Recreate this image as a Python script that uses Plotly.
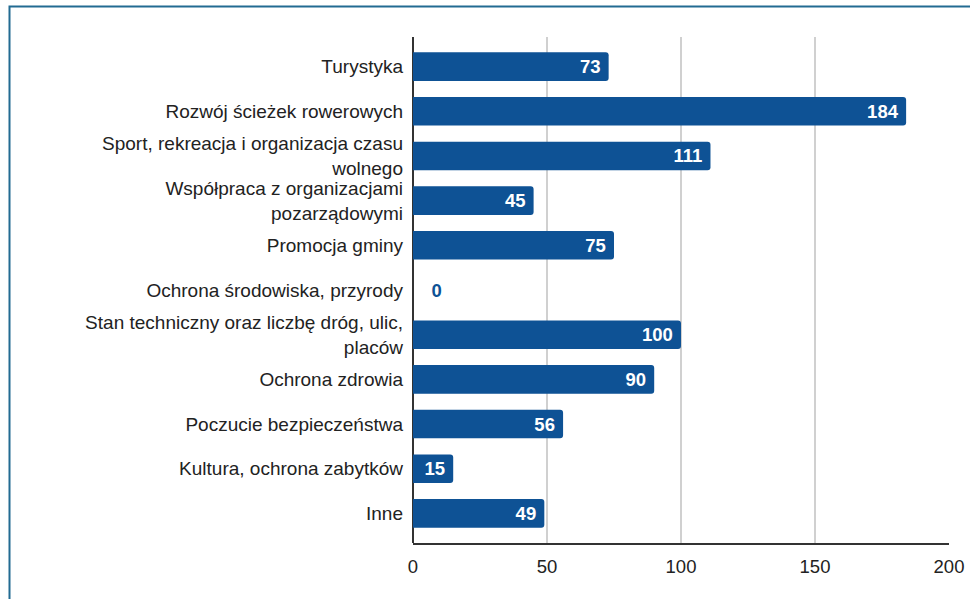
import plotly.graph_objects as go

categories = [
    "Turystyka",
    "Rozwój ścieżek rowerowych",
    "Sport, rekreacja i organizacja czasu<br>wolnego",
    "Współpraca z organizacjami<br>pozarządowymi",
    "Promocja gminy",
    "Ochrona środowiska, przyrody",
    "Stan techniczny oraz liczbę dróg, ulic,<br>placów",
    "Ochrona zdrowia",
    "Poczucie bezpieczeństwa",
    "Kultura, ochrona zabytków",
    "Inne",
]
values = [73, 184, 111, 45, 75, 0, 100, 90, 56, 15, 49]
x_ticks = [0, 50, 100, 150, 200]

BAR = "#0e5295"
FONT = "Liberation Sans, Arial, sans-serif"

positions = ["outside" if v == 0 else "inside" for v in values]
labels = [("\u00a0\u00a0\u00a0" + str(v)) if v == 0 else (str(v) + "\u00a0") for v in values]

fig = go.Figure(
    go.Bar(
        x=values,
        y=categories,
        orientation="h",
        marker=dict(color=BAR, cornerradius=3, line=dict(width=0)),
        text=labels,
        textposition=positions,
        insidetextanchor="end",
        insidetextfont=dict(color="white", size=18.5, family=FONT, weight="bold"),
        outsidetextfont=dict(color=BAR, size=18.5, family=FONT, weight="bold"),
        cliponaxis=False,
        hoverinfo="skip",
    )
)

W, H = 970, 599
L, R, T, B = 413, 21, 37, 56
pw, ph = W - L - R, H - T - B

def px_x(p):
    return (p - L) / pw

def px_y(p):
    return (H - B - p) / ph

fig.add_shape(
    type="rect", xref="paper", yref="paper",
    x0=px_x(9.5), x1=px_x(980), y0=px_y(610), y1=px_y(6.5),
    line=dict(color="#226b92", width=2), fillcolor="rgba(0,0,0,0)",
    layer="below",
)

fig.update_layout(
    width=W, height=H,
    margin=dict(l=L, r=R, t=T, b=B, autoexpand=False),
    paper_bgcolor="white", plot_bgcolor="white",
    bargap=0.36,
    showlegend=False,
    font=dict(family=FONT, size=18, color="#222222"),
    xaxis=dict(
        range=[0, 200], tickvals=x_ticks, ticktext=[str(t) for t in x_ticks],
        showgrid=True, gridcolor="#d0d0d0", gridwidth=1.5,
        showline=True, linecolor="#333333", linewidth=1.5,
        zeroline=True, zerolinecolor="#333333", zerolinewidth=1.5,
        ticks="", tickfont=dict(size=18.5, color="#222222"), ticklabelstandoff=6,
        fixedrange=True,
    ),
    yaxis=dict(
        range=[10.663, -0.663],
        showgrid=False, ticks="", showline=False,
        tickfont=dict(size=19, color="#222222"), ticklabelstandoff=9,
        fixedrange=True,
    ),
)

fig.write_html(
    "out.html",
    config={"displayModeBar": False},
    post_script="document.body.style.margin='0';document.body.style.overflow='hidden';",
)
